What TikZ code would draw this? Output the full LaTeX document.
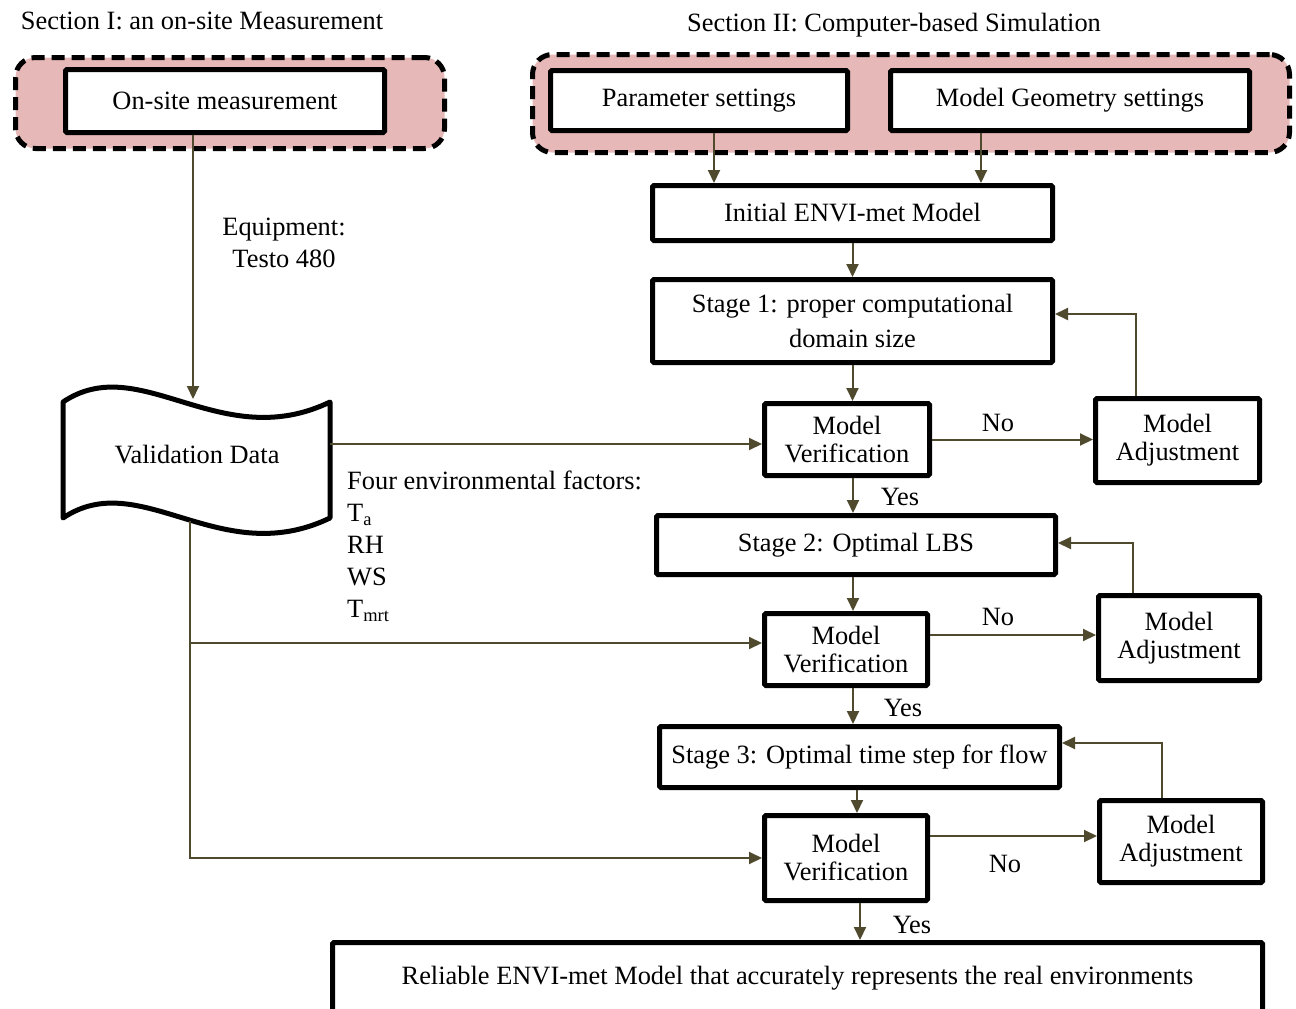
\documentclass[tikz,border=0pt]{standalone}
\usepackage{fontspec}
\setmainfont{Liberation Serif}
\usetikzlibrary{arrows.meta}
\definecolor{grpc}{HTML}{E6B8B7}
\definecolor{arrc}{HTML}{4F4A2E}
\begin{document}
\begin{tikzpicture}[x=1pt,y=-1pt,
  txt/.style={font=\fontsize{26.4}{32}\selectfont, inner sep=0pt},
  box/.style={draw=black, line width=5pt, fill=white, rounded corners=1.5pt, align=center,
    font=\fontsize{26.4}{28}\selectfont, inner sep=0pt},
  grpbox/.style={draw=black, line width=5pt, dash pattern=on 13pt off 7pt, fill=grpc,
    rounded corners=20pt, inner sep=0pt},
  conn/.style={draw=arrc, line width=2pt, -{Triangle[length=13pt,width=12pt]}},
  vdshape/.style={draw=black, line width=5pt, fill=white, line join=round}
]
\useasboundingbox (0,0) rectangle (1296,1009);

% section labels
\node[txt] (lab1) at (202,21) {Section I: an on-site Measurement};
\node[txt] (lab2) at (894,25) {Section II: Computer-based Simulation};

% groups
\node[grpbox, minimum width=429pt, minimum height=91pt] (g1) at (230,103) {};
\node[grpbox, minimum width=757pt, minimum height=98pt] (g2) at (911,103.5) {};

% boxes
\node[box, minimum width=319pt, minimum height=63pt] (onsite) at (225,101) {On-site measurement};
\node[box, minimum width=297pt, minimum height=60pt] (param) at (699,100.5) {Parameter settings};
\node[box, minimum width=359pt, minimum height=60pt] (geom) at (1070,100.5) {Model Geometry settings};
\node[box, minimum width=400pt, minimum height=55pt] (init) at (852.5,213) {Initial ENVI-met Model};
\node[box, minimum width=400pt, minimum height=83pt, font=\fontsize{26.4}{35}\selectfont] (s1) at (852.5,321) {Stage 1: proper computational\\domain size};
\node[box, minimum width=165pt, minimum height=72pt] (mv1) at (847,439.5) {Model\\Verification};
\node[box, minimum width=164pt, minimum height=84pt] (ma1) at (1177.5,440.5) {Model\\Adjustment};
\node[box, minimum width=399pt, minimum height=59pt] (s2) at (856,545) {Stage 2: Optimal LBS};
\node[box, minimum width=163pt, minimum height=72pt] (mv2) at (846,649.5) {Model\\Verification};
\node[box, minimum width=161pt, minimum height=85pt] (ma2) at (1179,638) {Model\\Adjustment};
\node[box, minimum width=400pt, minimum height=61pt] (s3) at (859.5,757) {Stage 3: Optimal time step for flow};
\node[box, minimum width=163pt, minimum height=85pt] (mv3) at (846,858) {Model\\Verification};
\node[box, minimum width=163pt, minimum height=82pt] (ma3) at (1181,841.5) {Model\\Adjustment};
\node[box, anchor=north, minimum width=930pt, text height=18pt, text depth=50pt, inner ysep=24pt] (final) at (797.5,940) {Reliable ENVI-met Model that accurately represents the real environments};

% validation data document shape
\draw[vdshape] (63,402) .. controls (140,350) and (220,455) .. (330,402) -- (330,518)
  .. controls (220,571) and (140,466) .. (63,518) -- cycle;
\node[txt] (vd) at (197,455) {Validation Data};
\coordinate (vdtop) at (193,399);
\coordinate (vdr) at (330,444);
\coordinate (vdb) at (190,521);
\coordinate (j2) at (190,643);

% labels
\node[txt, align=center] (equip) at (284,243) {Equipment:\\Testo 480};
\node[txt, align=left, anchor=north west, font=\fontsize{26.4}{32}\selectfont] (factors) at (347,471)
  {Four environmental factors:\\T\textsubscript{a}\\RH\\WS\\T\textsubscript{mrt}};
\node[txt] (no1) at (998,423) {No};
\node[txt] (no2) at (998,617) {No};
\node[txt] (no3) at (1005,864) {No};
\node[txt] (yes1) at (900,497) {Yes};
\node[txt] (yes2) at (903,708) {Yes};
\node[txt] (yes3) at (912,925) {Yes};

% connectors
\draw[conn] ([xshift=-32pt]onsite.south) -- (vdtop);
\draw[conn] ([xshift=15pt]param.south) -- ([xshift=15pt]param.south |- init.north);
\draw[conn] ([xshift=-89pt]geom.south) -- ([xshift=-89pt]geom.south |- init.north);
\draw[conn] (init.south) -- (init.south |- s1.north);
\draw[conn] (s1.south) -- (s1.south |- mv1.north);
\draw[conn] (mv1.east) -- (mv1.east -| ma1.west);
\draw[conn] ([xshift=-41.5pt]ma1.north) |- ([yshift=7pt]s1.east);
\draw[conn] ([xshift=6pt]mv1.south) -- ([xshift=6pt]mv1.south |- s2.north);
\draw[conn] ([xshift=-3pt]s2.south) -- ([xshift=-3pt]s2.south |- mv2.north);
\draw[conn] ([yshift=14.5pt]mv2.east) -- ([yshift=14.5pt]mv2.east -| ma2.west);
\draw[conn] ([xshift=-46pt]ma2.north) |- ([yshift=2pt]s2.east);
\draw[conn] ([xshift=7pt]mv2.south) -- ([xshift=7pt]mv2.south |- s3.north);
\draw[conn] ([xshift=-2.5pt]s3.south) -- ([xshift=-2.5pt]s3.south |- mv3.north);
\draw[conn] ([yshift=22pt]mv3.east) -- ([yshift=22pt]mv3.east -| ma3.west);
\draw[conn] ([xshift=-19pt]ma3.north) |- ([yshift=14pt]s3.east);
\draw[conn] ([xshift=14pt]mv3.south) -- ([xshift=14pt]mv3.south |- final.north);
\draw[conn] (vdr) -- (vdr -| mv1.west);
\draw[conn] (vdb) |- (mv3.west);
\draw[conn] (j2) -- (j2 -| mv2.west);
\end{tikzpicture}
\end{document}
